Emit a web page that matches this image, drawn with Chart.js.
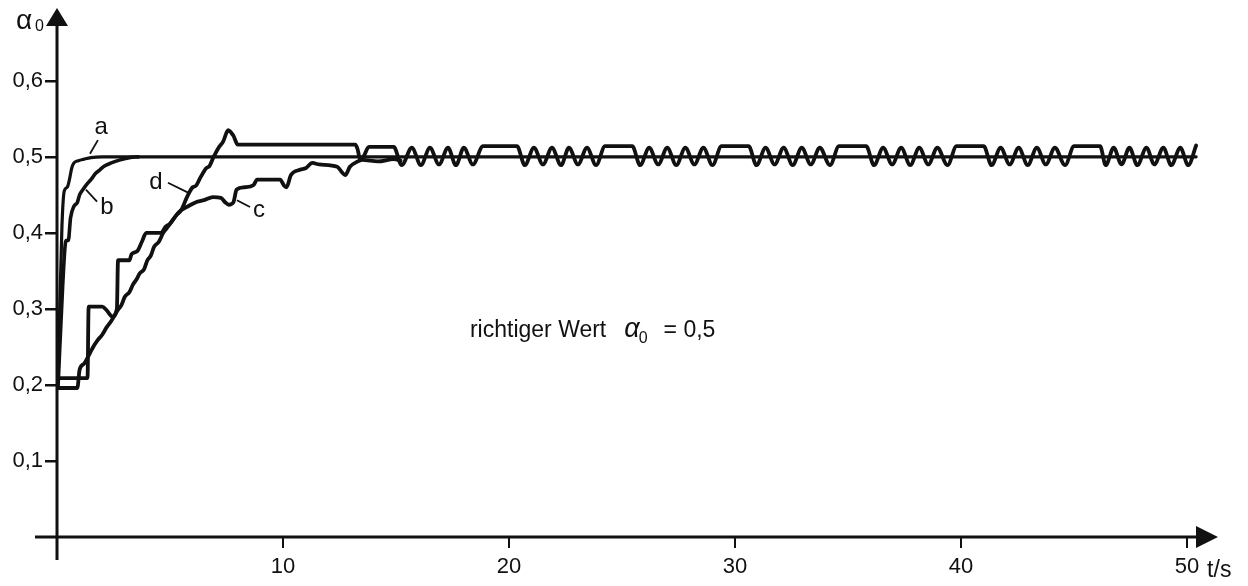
<!DOCTYPE html>
<html>
<head>
<meta charset="utf-8">
<script src="https://cdn.jsdelivr.net/npm/chart.js@4/dist/chart.umd.min.js"></script>
<style>
html,body{margin:0;padding:0;background:#fff;}
#wrap{width:1248px;height:586px;position:relative;}
</style>
</head>
<body>
<div id="wrap"><canvas id="c" width="1248" height="586"></canvas></div>
<script>
// ---- data (t in s, alpha0) ----
const xTickValues = [0, 10, 20, 30, 40, 50];
const xTickLabels = ['', '10', '20', '30', '40', '50'];
const yTickValues = [0.1, 0.2, 0.3, 0.4, 0.5, 0.6];
const yTickLabels = ['0,1', '0,2', '0,3', '0,4', '0,5', '0,6'];

const curveA = [[0.05,0.2],[0.12,0.3],[0.22,0.41],[0.32,0.455],[0.45,0.46],[0.55,0.47],[0.65,0.485],[0.75,0.492],
  [0.95,0.495],[1.2,0.497],[1.5,0.499],[2.0,0.5],[50.4,0.5]];
const curveB = [[0.05,0.2],[0.25,0.33],[0.4,0.39],[0.5,0.39],[0.6,0.42],[0.75,0.435],[0.9,0.44],[1.0,0.45],
  [1.15,0.457],[1.35,0.465],[1.5,0.47],[1.7,0.478],[1.9,0.483],[2.1,0.488],[2.4,0.492],[2.8,0.496],[3.2,0.499],[3.6,0.5]];
const curveC = [[0,0.196],[0.9,0.196],[1.0,0.22],[1.2,0.228],[1.46,0.242],[1.6,0.25],[1.8,0.259],[2.0,0.266],
  [2.2,0.276],[2.4,0.284],[2.7,0.299],[2.85,0.305],[3.0,0.316],[3.2,0.322],[3.36,0.332],[3.5,0.338],[3.67,0.347],
  [3.85,0.352],[4.0,0.364],[4.15,0.37],[4.3,0.382],[4.5,0.388],[4.7,0.4],[4.85,0.406],[5.0,0.412],[5.3,0.424],
  [5.5,0.43],[5.8,0.435],[6.2,0.441],[6.5,0.443],[6.9,0.447],[7.25,0.446],[7.45,0.44],[7.6,0.437],[7.8,0.44],
  [7.95,0.457],[8.3,0.46],[8.7,0.463],[8.85,0.47],[9.87,0.47],[10.05,0.462],[10.15,0.46],[10.35,0.476],[10.75,0.483],
  [11.0,0.485],[11.3,0.492],[11.6,0.49],[12.4,0.487],[12.6,0.48],[12.75,0.476],[12.96,0.487],[13.25,0.493],
  [13.5,0.496],[14.2,0.494],[14.9,0.497],[15.2,0.495]];
const curveD = [[0,0.209],[1.35,0.209],[1.4,0.303],[2.0,0.303],[2.2,0.298],[2.45,0.29],[2.65,0.3],[2.7,0.364],
  [3.2,0.364],[3.3,0.372],[3.55,0.376],[3.75,0.388],[3.95,0.4],[4.6,0.4],[4.8,0.408],[5.0,0.412],[5.3,0.424],
  [5.5,0.43],[5.75,0.447],[6.0,0.46],[6.15,0.462],[6.33,0.472],[6.6,0.485],[6.75,0.488],[6.9,0.498],[7.15,0.512],
  [7.35,0.52],[7.57,0.535],[7.8,0.528],[8.0,0.516],[13.2,0.516],[13.3,0.51],[13.4,0.498],[13.55,0.5],[13.8,0.513],
  [14.9,0.513],
  [15.25,0.489],[15.7,0.512],[16.1,0.489],[16.5,0.512],[16.9,0.49],[17.3,0.512],[17.65,0.489],[18.0,0.512],[18.4,0.49],[18.85,0.514],[20.35,0.514],
  [20.7,0.489],[21.1,0.512],[21.5,0.49],[21.9,0.512],[22.3,0.489],[22.65,0.512],[23.05,0.49],[23.45,0.512],[23.85,0.489],[24.25,0.514],[25.45,0.514],
  [25.8,0.489],[26.2,0.512],[26.6,0.49],[27.0,0.512],[27.4,0.489],[27.8,0.512],[28.2,0.49],[28.6,0.512],[29.0,0.489],[29.4,0.514],[30.6,0.514],
  [30.95,0.489],[31.35,0.512],[31.75,0.49],[32.15,0.512],[32.55,0.489],[32.95,0.512],[33.35,0.49],[33.75,0.512],[34.2,0.489],[34.6,0.514],[35.8,0.514],
  [36.15,0.489],[36.55,0.512],[36.95,0.49],[37.35,0.512],[37.75,0.489],[38.15,0.512],[38.55,0.49],[38.95,0.512],[39.4,0.489],[39.8,0.514],[41.0,0.514],
  [41.35,0.489],[41.75,0.512],[42.15,0.49],[42.55,0.512],[42.95,0.489],[43.35,0.512],[43.75,0.49],[44.15,0.512],[44.6,0.489],[45.0,0.514],[46.15,0.514],
  [46.4,0.489],[46.75,0.512],[47.1,0.49],[47.45,0.512],[47.8,0.489],[48.2,0.512],[48.55,0.49],[48.95,0.512],[49.3,0.489],[49.7,0.512],[50.05,0.489],[50.4,0.515]];

// curve labels: [text, labelT, labelV, leaderFromT, leaderFromV, leaderToT, leaderToV]
const curveLabels = [
  ['a', 1.95, 0.539, 1.81, 0.522, 1.46, 0.504],
  ['b', 2.21, 0.434, 1.77, 0.441, 1.28, 0.457],
  ['d', 4.38, 0.467, 4.91, 0.466, 5.8, 0.453],
  ['c', 8.94, 0.430, 7.96, 0.443, 8.54, 0.434]
];
const noteText = ['richtiger Wert', '\u03B1', '0', '= 0,5'];
const notePos = [18.27, 0.263];

const INK = '#111';
const FONT = '"Liberation Sans", Arial, sans-serif';

function toXY(arr){ return arr.map(p => ({x:p[0], y:p[1]})); }
function ds(arr, w){
  return {data: toXY(arr), borderColor: INK, borderWidth: w, pointRadius: 0,
          fill: false, cubicInterpolationMode: 'monotone', borderJoinStyle: 'round', borderCapStyle: 'round'};
}

const decor = {
  id: 'decor',
  afterDraw(chart){
    const ctx = chart.ctx, xs = chart.scales.x, ys = chart.scales.y;
    const x0 = xs.getPixelForValue(0), y0 = ys.getPixelForValue(0);
    const ca = chart.chartArea;
    ctx.save();
    ctx.strokeStyle = INK; ctx.fillStyle = INK; ctx.lineWidth = 3; ctx.lineCap = 'butt';
    // x axis
    const xTip = ca.right - 3;
    ctx.beginPath(); ctx.moveTo(x0 - 22, y0); ctx.lineTo(xTip - 20, y0); ctx.stroke();
    ctx.beginPath(); ctx.moveTo(xTip, y0); ctx.lineTo(xTip - 22, y0 - 11); ctx.lineTo(xTip - 22, y0 + 11); ctx.closePath(); ctx.fill();
    // y axis
    const yTip = 8;
    ctx.beginPath(); ctx.moveTo(x0, y0 + 23); ctx.lineTo(x0, yTip + 16); ctx.stroke();
    ctx.beginPath(); ctx.moveTo(x0, yTip); ctx.lineTo(x0 - 11, yTip + 18); ctx.lineTo(x0 + 11, yTip + 18); ctx.closePath(); ctx.fill();
    // axis titles
    ctx.textBaseline = 'alphabetic';
    ctx.font = '28px ' + FONT; ctx.textAlign = 'left';
    ctx.fillText('\u03B1', x0 - 41, 29);
    ctx.font = '16px ' + FONT; ctx.fillText('0', x0 - 22, 31);
    ctx.font = '23px ' + FONT;
    ctx.fillText('t/s', xs.getPixelForValue(50) + 20, y0 + 40);
    // curve labels
    ctx.lineWidth = 1.8;
    curveLabels.forEach(l => {
      ctx.font = '24px ' + FONT; ctx.textAlign = 'center'; ctx.textBaseline = 'middle';
      ctx.fillText(l[0], xs.getPixelForValue(l[1]), ys.getPixelForValue(l[2]));
      ctx.beginPath();
      ctx.moveTo(xs.getPixelForValue(l[3]), ys.getPixelForValue(l[4]));
      ctx.lineTo(xs.getPixelForValue(l[5]), ys.getPixelForValue(l[6]));
      ctx.stroke();
    });
    // note
    let nx = xs.getPixelForValue(notePos[0]), ny = ys.getPixelForValue(notePos[1]);
    ctx.textAlign = 'left'; ctx.textBaseline = 'alphabetic';
    ctx.font = '23px ' + FONT; ctx.fillText(noteText[0], nx, ny);
    nx += ctx.measureText(noteText[0]).width + 18;
    ctx.font = 'italic 27px ' + FONT; ctx.fillText(noteText[1], nx, ny);
    nx += ctx.measureText(noteText[1]).width - 1;
    ctx.font = '16px ' + FONT; ctx.fillText(noteText[2], nx, ny + 6);
    nx += ctx.measureText(noteText[2]).width + 16;
    ctx.font = '23px ' + FONT; ctx.fillText(noteText[3], nx, ny);
    ctx.restore();
  }
};

new Chart(document.getElementById('c'), {
  type: 'line',
  data: { datasets: [ds(curveA, 3.2), ds(curveB, 3.6), ds(curveC, 3.8), ds(curveD, 3.8)] },
  options: {
    responsive: false, animation: false, events: [],
    layout: { padding: { top: 20, right: 27, left: 0, bottom: 0 } },
    plugins: { legend: { display: false }, tooltip: { enabled: false } },
    scales: {
      x: {
        type: 'linear', min: 0, max: 51.5,
        afterBuildTicks: s => { s.ticks = xTickValues.map(v => ({ value: v })); },
        afterFit: s => { s.height = 49; },
        border: { display: false },
        grid: { drawOnChartArea: false, drawTicks: true, tickLength: 11, color: INK, lineWidth: 2 },
        ticks: { color: INK, padding: 6, maxRotation: 0, font: { family: FONT, size: 22 },
          callback: (v) => { const i = xTickValues.indexOf(v); return i >= 0 ? xTickLabels[i] : ''; } }
      },
      y: {
        type: 'linear', min: 0, max: 0.68,
        afterBuildTicks: s => { s.ticks = yTickValues.map(v => ({ value: v })); },
        afterFit: s => { s.width = 57; },
        border: { display: false },
        grid: { drawOnChartArea: false, drawTicks: true, tickLength: 12, color: INK, lineWidth: 2.5 },
        ticks: { color: INK, padding: 2, font: { family: FONT, size: 22 },
          callback: (v) => { const i = yTickValues.findIndex(t => Math.abs(t - v) < 1e-9); return i >= 0 ? yTickLabels[i] : ''; } }
      }
    }
  },
  plugins: [decor]
});
</script>
</body>
</html>
